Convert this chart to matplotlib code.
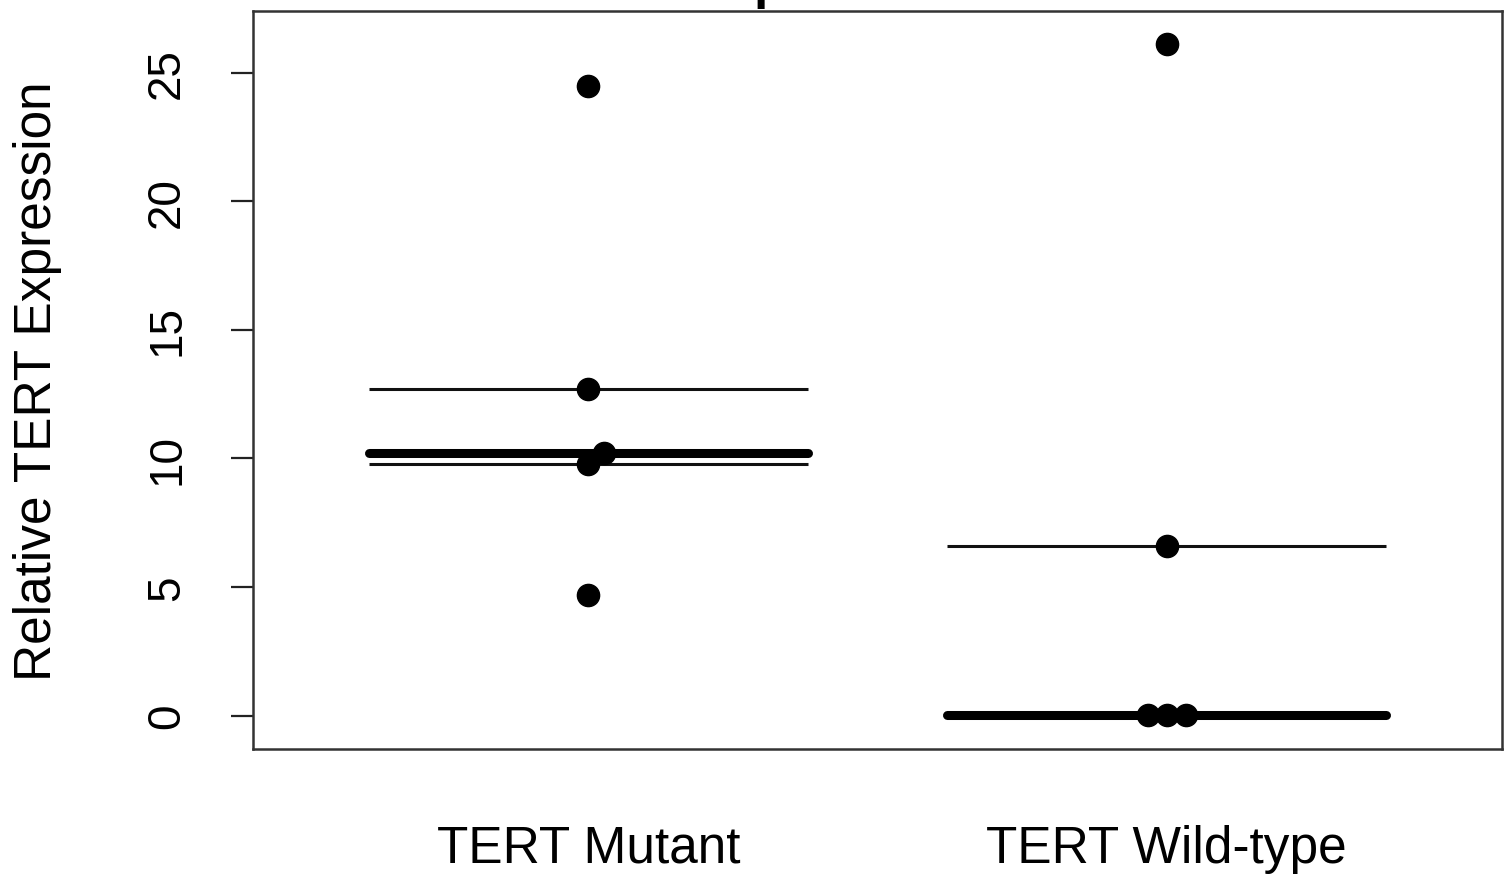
import numpy as np
import matplotlib
matplotlib.use("Agg")
import matplotlib.pyplot as plt

# Relative TERT expression by promoter mutation status
groups = ["TERT Mutant", "TERT Wild-type"]
mutant_values = [24.5, 12.7, 10.2, 9.8, 4.7]
wildtype_values = [26.1, 6.6, 0.03, 0.02, 0.04]
yticks = [0, 5, 10, 15, 20, 25]
title_text = "p = 0.0286"

plt.rcParams["font.family"] = ["Liberation Sans", "DejaVu Sans"]

W, H, DPI = 1510, 878, 100
fig = plt.figure(figsize=(W / DPI, H / DPI), dpi=DPI)
ax = fig.add_axes([253 / W, 1 - 750 / H, (1502 - 253) / W, (750 - 12) / H])

ax.set_xlim(0.42, 2.58)
ax.set_ylim(-1.3, 27.4)

# pixel scale used to resolve overlapping points in the swarm
px_x = (1502 - 253) / (2.58 - 0.42)
px_y = (750 - 12) / (27.4 + 1.3)
spacing = 19.0  # collision distance in pixels


def swarm_offsets(vals):
    """Simple beeswarm: place points low to high, shifting sideways on collision."""
    order = np.argsort(vals, kind="stable")
    placed = []  # (x_px, y_px)
    offsets = np.zeros(len(vals))
    for i in order:
        y = vals[i] * px_y
        cands = [0.0]
        for p_x, p_y in placed:
            dy = abs(p_y - y)
            if dy < spacing:
                dx = np.sqrt(spacing ** 2 - dy ** 2)
                cands += [p_x + dx, p_x - dx]
        cands.sort(key=lambda c: (abs(c), -c))
        for c in cands:
            if all(np.hypot(c - p_x, y - p_y) >= spacing - 1e-6 for p_x, p_y in placed):
                break
        placed.append((c, y))
        offsets[i] = c / px_x
    return offsets


half_width = 0.38
for pos, vals in zip([1, 2], [mutant_values, wildtype_values]):
    vals = np.asarray(vals, dtype=float)
    q1, med, q3 = np.percentile(vals, [25, 50, 75])
    for q in (q1, q3):
        ax.hlines(q, pos - half_width, pos + half_width, color="#111111", lw=2.2, zorder=2)
    ax.hlines(med, pos - half_width, pos + half_width, color="black", lw=6.5,
              capstyle="round", zorder=3)
    xs = pos + swarm_offsets(vals)
    ax.plot(xs, vals, "o", color="black", ms=16, mec="black", zorder=4)

ax.set_xticks([1, 2])
ax.set_xticklabels(groups)
ax.set_yticks(yticks)
ax.set_yticklabels([str(t) for t in yticks], rotation=90, va="center")
ax.tick_params(axis="x", length=0, pad=54, labelsize=37)
ax.tick_params(axis="y", length=16, width=1.6, pad=30, labelsize=33, color="#222222")

for s in ax.spines.values():
    s.set_linewidth(1.8)
    s.set_color("#333333")

ax.set_ylabel("Relative TERT Expression", fontsize=37, va="center")
ax.yaxis.set_label_coords((38 - 253) / (1502 - 253), 0.5)

fig.text((253 + 1502) / 2 / W, 1 + 2 / H, title_text, ha="center", va="baseline",
         fontsize=37, fontweight="bold")

fig.savefig("out.png", dpi=DPI)
